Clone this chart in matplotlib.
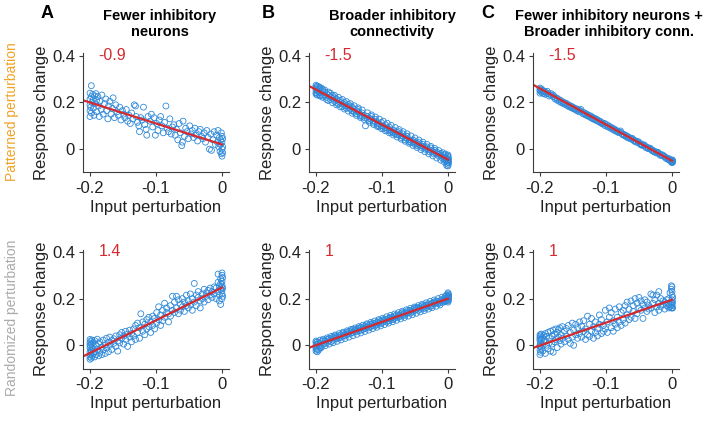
import matplotlib
matplotlib.use("Agg")
import matplotlib.pyplot as plt
import numpy as np

plt.rcParams['font.family'] = ['Liberation Sans', 'DejaVu Sans']

# each panel: list of (input perturbation, [response changes at that input])
pat_fewer = [
    (-0.200, [0.240, 0.215, 0.190, 0.165, 0.140]), (-0.199, [0.180]),
    (-0.198, [0.272, 0.225, 0.155]), (-0.197, [0.200]), (-0.196, [0.235]),
    (-0.195, [0.212, 0.175]), (-0.194, [0.145]), (-0.193, [0.228]),
    (-0.192, [0.195]), (-0.191, [0.238]), (-0.190, [0.160, 0.210]),
    (-0.188, [0.225]), (-0.187, [0.185]), (-0.186, [0.140]), (-0.185, [0.205]),
    (-0.183, [0.170]), (-0.182, [0.232]), (-0.180, [0.150]), (-0.178, [0.195]),
    (-0.176, [0.215]), (-0.175, [0.165]), (-0.173, [0.130]), (-0.172, [0.185]),
    (-0.170, [0.205]), (-0.168, [0.150]), (-0.166, [0.175]), (-0.165, [0.220]),
    (-0.163, [0.135]), (-0.161, [0.190]), (-0.159, [0.160]), (-0.157, [0.145]),
    (-0.155, [0.180]), (-0.153, [0.125]), (-0.151, [0.165]), (-0.149, [0.150]),
    (-0.147, [0.135]), (-0.145, [0.170]), (-0.143, [0.120]), (-0.141, [0.145]),
    (-0.139, [0.110]), (-0.137, [0.155]), (-0.135, [0.130]), (-0.133, [0.190]),
    (-0.131, [0.185]), (-0.130, [0.140]), (-0.128, [0.115]), (-0.126, [0.100]),
    (-0.125, [0.075]), (-0.123, [0.135]), (-0.121, [0.125]), (-0.119, [0.180]),
    (-0.117, [0.105]), (-0.115, [0.085]), (-0.114, [0.060]), (-0.112, [0.140]),
    (-0.109, [0.120]), (-0.107, [0.150]), (-0.105, [0.095]), (-0.103, [0.135]),
    (-0.101, [0.060]), (-0.099, [0.110]), (-0.097, [0.080]), (-0.095, [0.125]),
    (-0.093, [0.140]), (-0.091, [0.100]), (-0.089, [0.070]), (-0.087, [0.115]),
    (-0.085, [0.185]), (-0.083, [0.090]), (-0.081, [0.075]), (-0.079, [0.130]),
    (-0.077, [0.065]), (-0.075, [0.095]), (-0.073, [0.105]), (-0.071, [0.060]),
    (-0.069, [0.085]), (-0.067, [0.040]), (-0.065, [0.110]), (-0.063, [0.070]),
    (-0.061, [0.015]), (-0.060, [0.030]), (-0.059, [0.120]), (-0.057, [0.055]),
    (-0.055, [0.090]), (-0.053, [0.075]), (-0.051, [0.045]), (-0.049, [0.100]),
    (-0.047, [0.065]), (-0.045, [0.080]), (-0.043, [0.050]), (-0.041, [0.090]),
    (-0.039, [0.060]), (-0.037, [0.035]), (-0.035, [0.075]), (-0.033, [0.085]),
    (-0.031, [0.055]), (-0.029, [0.045]), (-0.027, [0.070]), (-0.025, [0.030]),
    (-0.023, [0.080]), (-0.021, [0.050]), (-0.019, [0.000]), (-0.017, [0.065]),
    (-0.016, [-0.005]), (-0.014, [0.040]), (-0.012, [0.075]), (-0.010, [0.020]),
    (-0.008, [0.060]), (-0.007, [0.030]), (-0.006, [0.080]), (-0.005, [0.010]),
    (-0.004, [0.050]), (-0.003, [-0.010]), (-0.002, [0.040, 0.020]),
    (-0.001, [0.070, -0.020]), (0.000, [0.000, 0.030, 0.055, -0.030]),
    (0.001, [0.010, -0.015, 0.045]),
]

pat_broad = [
    (-0.200, [0.268, 0.255, 0.243, 0.262, 0.236, 0.274]), (-0.198, [0.250, 0.270, 0.240, 0.232]),
    (-0.196, [0.258, 0.245, 0.268]), (-0.194, [0.264, 0.232, 0.228]), (-0.192, [0.250, 0.240, 0.262]),
    (-0.190, [0.255, 0.228, 0.222]), (-0.187, [0.245, 0.232, 0.254]), (-0.184, [0.238, 0.222, 0.213]),
    (-0.181, [0.232, 0.245, 0.208]), (-0.178, [0.225, 0.212, 0.240]), (-0.175, [0.230, 0.218, 0.199]),
    (-0.172, [0.220, 0.205, 0.231]), (-0.169, [0.215, 0.200, 0.190]), (-0.166, [0.205, 0.192, 0.222]),
    (-0.163, [0.200, 0.210, 0.181]), (-0.160, [0.195, 0.182, 0.213]), (-0.157, [0.190, 0.200, 0.172]),
    (-0.154, [0.185, 0.175, 0.204]), (-0.151, [0.180, 0.192, 0.163]), (-0.148, [0.172, 0.185, 0.195]),
    (-0.145, [0.180, 0.165, 0.154]), (-0.142, [0.170, 0.158, 0.186]), (-0.139, [0.165, 0.152, 0.145]),
    (-0.136, [0.160, 0.170, 0.177]), (-0.133, [0.150, 0.142, 0.136]), (-0.130, [0.155, 0.140, 0.168]),
    (-0.127, [0.145, 0.135, 0.127]), (-0.125, [0.100]), (-0.122, [0.140, 0.128, 0.156]),
    (-0.119, [0.132, 0.122, 0.115]), (-0.116, [0.128, 0.140, 0.147]), (-0.113, [0.120, 0.112, 0.106]),
    (-0.110, [0.118, 0.128, 0.138]), (-0.107, [0.112, 0.102, 0.097]), (-0.104, [0.108, 0.098, 0.129]),
    (-0.101, [0.100, 0.115, 0.088]), (-0.098, [0.098, 0.088, 0.120]), (-0.095, [0.092, 0.105, 0.079]),
    (-0.092, [0.090, 0.080, 0.111]), (-0.089, [0.085, 0.095, 0.070]), (-0.086, [0.078, 0.070, 0.102]),
    (-0.083, [0.082, 0.072, 0.061]), (-0.080, [0.075, 0.065, 0.093]), (-0.077, [0.072, 0.062, 0.052]),
    (-0.074, [0.062, 0.075, 0.084]), (-0.071, [0.058, 0.050, 0.043]), (-0.068, [0.055, 0.065, 0.075]),
    (-0.065, [0.050, 0.040, 0.034]), (-0.062, [0.045, 0.055, 0.066]), (-0.059, [0.040, 0.032, 0.025]),
    (-0.056, [0.038, 0.028, 0.057]), (-0.053, [0.032, 0.040, 0.016]), (-0.050, [0.028, 0.020, 0.048]),
    (-0.047, [0.025, 0.015, 0.007]), (-0.044, [0.020, 0.028, 0.039]), (-0.041, [0.015, 0.008, -0.002]),
    (-0.038, [0.012, 0.020, 0.030]), (-0.035, [0.008, 0.000, -0.011]), (-0.032, [0.002, 0.010, 0.021]),
    (-0.029, [-0.002, -0.010, -0.020]), (-0.026, [-0.005, 0.005, 0.012]), (-0.023, [-0.010, -0.018, -0.029]),
    (-0.020, [-0.015, -0.005, 0.003]), (-0.017, [-0.020, -0.012, -0.038]), (-0.014, [-0.022, -0.030, -0.006]),
    (-0.011, [-0.028, -0.018, -0.047]), (-0.008, [-0.032, -0.040, -0.015]), (-0.006, [-0.035, -0.025, -0.054]),
    (-0.004, [-0.045, -0.038, -0.021]), (-0.002, [-0.050, -0.040, -0.060, -0.070]),
    (0.000, [-0.045, -0.055, -0.035, -0.065, -0.030, -0.050, -0.072, -0.025]),
    (0.001, [-0.042, -0.058]),
]

pat_both = [
    (-0.200, [0.262, 0.250, 0.240, 0.255]), (-0.198, [0.245, 0.258]),
    (-0.196, [0.252, 0.240]), (-0.194, [0.248, 0.238]), (-0.192, [0.245, 0.235]),
    (-0.189, [0.240, 0.248]), (-0.186, [0.236, 0.228]), (-0.183, [0.230, 0.238]),
    (-0.180, [0.225, 0.232]), (-0.177, [0.222, 0.215]), (-0.174, [0.218, 0.210]),
    (-0.171, [0.212, 0.205]), (-0.168, [0.208, 0.200]), (-0.165, [0.202, 0.196]),
    (-0.162, [0.198, 0.192]), (-0.159, [0.195, 0.187]), (-0.156, [0.188, 0.182]),
    (-0.153, [0.185, 0.178]), (-0.150, [0.180, 0.174]), (-0.147, [0.175, 0.170]),
    (-0.144, [0.172, 0.165]), (-0.141, [0.168, 0.160]), (-0.138, [0.162, 0.170]),
    (-0.135, [0.158, 0.152]), (-0.132, [0.155, 0.148]), (-0.129, [0.150, 0.144]),
    (-0.126, [0.145, 0.140]), (-0.123, [0.142, 0.135]), (-0.120, [0.136, 0.130]),
    (-0.117, [0.132, 0.126]), (-0.114, [0.128, 0.122]), (-0.111, [0.122, 0.118]),
    (-0.108, [0.118, 0.112]), (-0.105, [0.112, 0.108]), (-0.102, [0.110, 0.102]),
    (-0.099, [0.105, 0.098]), (-0.096, [0.100, 0.094]), (-0.093, [0.095, 0.090]),
    (-0.090, [0.090, 0.085]), (-0.087, [0.086, 0.080]), (-0.084, [0.080, 0.076]),
    (-0.081, [0.075, 0.071]), (-0.078, [0.072, 0.078]), (-0.075, [0.066, 0.062]),
    (-0.072, [0.062, 0.058]), (-0.069, [0.058, 0.052]), (-0.066, [0.052, 0.048]),
    (-0.063, [0.048, 0.044]), (-0.060, [0.042, 0.046]), (-0.057, [0.038, 0.034]),
    (-0.054, [0.034, 0.030]), (-0.051, [0.028, 0.032]), (-0.048, [0.024, 0.020]),
    (-0.045, [0.020, 0.016]), (-0.042, [0.014, 0.018]), (-0.039, [0.010, 0.006]),
    (-0.036, [0.006, 0.002]), (-0.033, [0.000, 0.004]), (-0.030, [-0.003, -0.007]),
    (-0.027, [-0.008, -0.012]), (-0.024, [-0.012, -0.016]), (-0.021, [-0.018, -0.014]),
    (-0.018, [-0.022, -0.026]), (-0.015, [-0.028, -0.024]), (-0.012, [-0.032, -0.029]),
    (-0.009, [-0.036, -0.040]), (-0.006, [-0.040, -0.044]), (-0.004, [-0.045, -0.042]),
    (-0.002, [-0.048, -0.052]), (0.000, [-0.050, -0.055, -0.046, -0.058, -0.052]),
    (0.001, [-0.048, -0.056]),
]

rand_fewer = [
    (-0.200, [-0.050, -0.030, -0.010, 0.010, 0.025, -0.060, 0.000]),
    (-0.199, [-0.040, 0.018, -0.020]), (-0.198, [-0.055, 0.005, -0.025]),
    (-0.197, [0.022, -0.045, -0.008]), (-0.195, [-0.035, 0.012, -0.015]),
    (-0.193, [-0.050, 0.020, -0.028]), (-0.191, [0.000, -0.040]),
    (-0.189, [-0.018, 0.026]), (-0.187, [-0.045, 0.008]), (-0.185, [-0.030, 0.015]),
    (-0.182, [-0.008, -0.040]), (-0.180, [0.022, -0.020]), (-0.177, [0.002, -0.035]),
    (-0.175, [0.030, -0.012]), (-0.172, [0.012, -0.028]), (-0.170, [0.035, 0.000]),
    (-0.167, [-0.018, 0.020]), (-0.164, [0.028, 0.008]), (-0.161, [0.040, -0.005]),
    (-0.158, [-0.025, 0.018]), (-0.155, [0.045, 0.010]), (-0.152, [0.030, 0.055]),
    (-0.149, [0.005, 0.040]), (-0.146, [0.060, 0.025]), (-0.143, [-0.005, 0.048]),
    (-0.140, [0.035, 0.065]), (-0.137, [0.015, 0.050]), (-0.134, [0.070, 0.040]),
    (-0.131, [0.025, 0.085]), (-0.128, [0.055, 0.095]), (-0.125, [0.075, 0.030]),
    (-0.123, [0.135]), (-0.120, [0.060, 0.100]), (-0.117, [0.090, 0.045]),
    (-0.114, [0.110, 0.070]), (-0.111, [0.080, 0.120]), (-0.108, [0.100, 0.055]),
    (-0.105, [0.125, 0.085]), (-0.102, [0.070, 0.115]), (-0.099, [0.140, 0.095]),
    (-0.096, [0.110, 0.165]), (-0.093, [0.130, 0.085]), (-0.090, [0.150, 0.105]),
    (-0.087, [0.120, 0.180]), (-0.084, [0.160, 0.140]), (-0.081, [0.100, 0.135]),
    (-0.078, [0.170, 0.125]), (-0.075, [0.150, 0.210]), (-0.072, [0.185, 0.140]),
    (-0.069, [0.160, 0.210]), (-0.066, [0.135, 0.195]), (-0.063, [0.175, 0.150]),
    (-0.060, [0.200, 0.165]), (-0.057, [0.145, 0.185]), (-0.054, [0.215, 0.170]),
    (-0.051, [0.190, 0.160]), (-0.048, [0.175, 0.220]), (-0.045, [0.150, 0.200]),
    (-0.042, [0.265, 0.185]), (-0.039, [0.170, 0.215]), (-0.036, [0.205, 0.230]),
    (-0.033, [0.190, 0.160]), (-0.030, [0.220, 0.200]), (-0.027, [0.185, 0.240]),
    (-0.024, [0.210, 0.225]), (-0.021, [0.195, 0.235]), (-0.018, [0.245, 0.215]),
    (-0.015, [0.205, 0.230]), (-0.012, [0.250, 0.220]), (-0.009, [0.200, 0.245]),
    (-0.006, [0.270, 0.230, 0.305]), (-0.004, [0.215, 0.255, 0.190]),
    (-0.002, [0.285, 0.240, 0.175, 0.265]),
    (0.000, [0.300, 0.310, 0.250, 0.220, 0.275, 0.200, 0.235, 0.260]),
    (0.001, [0.290, 0.245, 0.210]),
]

rand_broad = [
    (-0.200, [0.000, -0.015, 0.012, -0.025, 0.018, -0.008]),
    (-0.198, [0.005, -0.018, 0.015, -0.028]), (-0.196, [-0.005, 0.010, -0.020]),
    (-0.194, [0.008, -0.012, 0.022]), (-0.192, [0.015, -0.002, -0.010]),
    (-0.189, [0.005, 0.020, 0.026]), (-0.186, [0.018, 0.008, -0.002]),
    (-0.183, [0.012, 0.025, 0.032]), (-0.180, [0.020, 0.030, 0.005]),
    (-0.177, [0.028, 0.015, 0.038]), (-0.174, [0.035, 0.022, 0.011]),
    (-0.171, [0.030, 0.040, 0.044]), (-0.168, [0.038, 0.028, 0.017]),
    (-0.165, [0.042, 0.032, 0.050]), (-0.162, [0.045, 0.035, 0.023]),
    (-0.159, [0.040, 0.052, 0.056]), (-0.156, [0.048, 0.040, 0.029]),
    (-0.153, [0.055, 0.045, 0.062]), (-0.150, [0.050, 0.060, 0.035]),
    (-0.147, [0.062, 0.052, 0.068]), (-0.144, [0.055, 0.068, 0.041]),
    (-0.141, [0.065, 0.058, 0.074]), (-0.138, [0.070, 0.060, 0.047]),
    (-0.135, [0.072, 0.062, 0.080]), (-0.132, [0.065, 0.078, 0.053]),
    (-0.129, [0.075, 0.068, 0.086]), (-0.126, [0.082, 0.072, 0.059]),
    (-0.123, [0.078, 0.088, 0.092]), (-0.120, [0.085, 0.075, 0.065]),
    (-0.117, [0.090, 0.080, 0.098]), (-0.114, [0.085, 0.095, 0.071]),
    (-0.111, [0.092, 0.082, 0.104]), (-0.108, [0.098, 0.088, 0.077]),
    (-0.105, [0.095, 0.105, 0.110]), (-0.102, [0.102, 0.092, 0.083]),
    (-0.099, [0.108, 0.098, 0.116]), (-0.096, [0.105, 0.112, 0.089]),
    (-0.093, [0.110, 0.100, 0.122]), (-0.090, [0.115, 0.105, 0.095]),
    (-0.087, [0.112, 0.120, 0.128]), (-0.084, [0.118, 0.110, 0.101]),
    (-0.081, [0.125, 0.115, 0.134]), (-0.078, [0.120, 0.130, 0.107]),
    (-0.075, [0.128, 0.120, 0.140]), (-0.072, [0.135, 0.125, 0.113]),
    (-0.069, [0.130, 0.140, 0.146]), (-0.066, [0.138, 0.128, 0.119]),
    (-0.063, [0.142, 0.135, 0.152]), (-0.060, [0.140, 0.150, 0.125]),
    (-0.057, [0.148, 0.138, 0.158]), (-0.054, [0.152, 0.142, 0.131]),
    (-0.051, [0.148, 0.158, 0.164]), (-0.048, [0.155, 0.162, 0.137]),
    (-0.045, [0.160, 0.150, 0.170]), (-0.042, [0.165, 0.155, 0.143]),
    (-0.039, [0.160, 0.170, 0.176]), (-0.036, [0.168, 0.158, 0.149]),
    (-0.033, [0.172, 0.162, 0.182]), (-0.030, [0.170, 0.178, 0.155]),
    (-0.027, [0.175, 0.165, 0.188]), (-0.024, [0.180, 0.170, 0.161]),
    (-0.021, [0.178, 0.185, 0.194]), (-0.018, [0.182, 0.190, 0.167]),
    (-0.015, [0.188, 0.178, 0.200]), (-0.012, [0.190, 0.182, 0.173]),
    (-0.009, [0.195, 0.185, 0.206]), (-0.006, [0.192, 0.200, 0.185]),
    (-0.004, [0.198, 0.210, 0.188]), (-0.002, [0.205, 0.192, 0.215]),
    (0.000, [0.200, 0.210, 0.190, 0.220, 0.185, 0.225, 0.205]),
    (0.001, [0.195, 0.215, 0.208]),
]

rand_both = [
    (-0.200, [-0.040, -0.020, 0.000, 0.020, 0.035, 0.045, -0.005, 0.028]),
    (-0.199, [0.010, -0.030, 0.040]), (-0.198, [0.025, -0.012, 0.048]),
    (-0.196, [0.005, 0.032, -0.025]), (-0.194, [0.042, 0.015]),
    (-0.192, [-0.035, 0.050, 0.020]), (-0.190, [0.000, 0.038]),
    (-0.188, [0.055, -0.015]), (-0.186, [0.030, 0.010]), (-0.184, [0.060, -0.025]),
    (-0.182, [0.040, 0.005]), (-0.180, [0.065, -0.030]), (-0.178, [0.048, 0.015]),
    (-0.176, [0.070, 0.025]), (-0.174, [-0.010, 0.055]), (-0.172, [0.068, 0.035]),
    (-0.170, [0.020, 0.075]), (-0.168, [0.045, 0.005]), (-0.166, [0.080, 0.030]),
    (-0.163, [0.060, 0.015]), (-0.160, [0.072, 0.040]), (-0.157, [0.025, 0.085]),
    (-0.154, [0.055, 0.008]), (-0.151, [0.095, 0.035]), (-0.149, [0.000, 0.065]),
    (-0.146, [0.045, 0.090]), (-0.143, [0.075, 0.030]), (-0.140, [0.100, 0.050]),
    (-0.137, [0.035, 0.082]), (-0.134, [0.060, 0.105]), (-0.131, [0.025, 0.070]),
    (-0.128, [0.125, 0.045]), (-0.125, [0.090, 0.038]), (-0.122, [0.060, 0.115]),
    (-0.119, [0.030, 0.080]), (-0.116, [0.100, 0.055]), (-0.113, [0.072, 0.040]),
    (-0.110, [0.130, 0.090]), (-0.107, [0.050, 0.110]), (-0.104, [0.085, 0.060]),
    (-0.101, [0.150, 0.070]), (-0.098, [0.100, 0.055]), (-0.095, [0.160, 0.120]),
    (-0.092, [0.075, 0.140]), (-0.089, [0.105, 0.060]), (-0.086, [0.155, 0.090]),
    (-0.083, [0.120, 0.075]), (-0.080, [0.165, 0.100]), (-0.077, [0.085, 0.140]),
    (-0.074, [0.150, 0.110]), (-0.071, [0.095, 0.170]), (-0.068, [0.130, 0.185]),
    (-0.065, [0.110, 0.155]), (-0.062, [0.190, 0.120]), (-0.059, [0.145, 0.170]),
    (-0.056, [0.115, 0.200]), (-0.053, [0.180, 0.135]), (-0.050, [0.205, 0.160]),
    (-0.047, [0.150, 0.190]), (-0.044, [0.175, 0.115]), (-0.041, [0.195, 0.160]),
    (-0.038, [0.145, 0.185]), (-0.035, [0.170, 0.155]), (-0.032, [0.220, 0.160]),
    (-0.029, [0.180, 0.215]), (-0.026, [0.140, 0.195]), (-0.023, [0.165, 0.215]),
    (-0.020, [0.230, 0.150, 0.180]), (-0.017, [0.200, 0.165]), (-0.014, [0.175, 0.190]),
    (-0.011, [0.155, 0.185]), (-0.008, [0.170, 0.195]), (-0.005, [0.160, 0.180, 0.200]),
    (-0.003, [0.175, 0.165, 0.225]), (-0.001, [0.255, 0.240, 0.160, 0.185]),
    (0.000, [0.250, 0.215, 0.170, 0.160, 0.195, 0.230, 0.175]),
    (0.001, [0.160, 0.205, 0.185]),
]

panels = [pat_fewer, pat_broad, pat_both, rand_fewer, rand_broad, rand_both]
fit_slope = [-0.9, -1.5, -1.55, 1.4, 1.0, 0.98]
fit_intercept = [0.02, -0.045, -0.05, 0.247, 0.2, 0.195]
slope_labels = ['-0.9', '-1.5', '-1.5', '1.4', '1', '1']
col_titles = ['Fewer inhibitory\nneurons', 'Broader inhibitory\nconnectivity',
              'Fewer inhibitory neurons +\nBroader inhibitory conn.']
col_letters = ['A', 'B', 'C']
row_labels = ['Patterned perturbation', 'Randomized perturbation']

W, H = 705, 421
fig = plt.figure(figsize=(W / 100, H / 100), dpi=100)

lefts = [83.4, 309.4, 533.4]
ax_w = 145.2
tops = [53.5, 249.6]
ax_h = 119.0

blue = '#2f89d9'
red = '#d42a2f'
axcol = '#3c3c3c'

for i, pts in enumerate(panels):
    r, c = divmod(i, 3)
    xs = [x for x, ys in pts for _ in ys]
    ys_ = [y for _, ys in pts for y in ys]
    ax = fig.add_axes([lefts[c] / W, 1 - (tops[r] + ax_h) / H, ax_w / W, ax_h / H])
    ax.scatter(xs, ys_, s=18, facecolors='none', edgecolors=blue, linewidths=0.6)
    xl = np.array([-0.21, 0.0])
    ax.plot(xl, fit_intercept[i] + fit_slope[i] * xl, color=red, lw=1.6)
    ax.text(-0.187, 0.4, slope_labels[i], color=red, fontsize=11.5, va='center', ha='left')
    ax.set_xlim(-0.21, 0.01)
    ax.set_ylim(-0.1, 0.41)
    ax.set_xticks([-0.2, -0.1, 0])
    ax.set_xticklabels(['-0.2', '-0.1', '0'])
    ax.set_yticks([0, 0.2, 0.4])
    ax.set_yticklabels(['0', '0.2', '0.4'])
    for s in ['top', 'right']:
        ax.spines[s].set_visible(False)
    for s in ['left', 'bottom']:
        ax.spines[s].set_color(axcol)
        ax.spines[s].set_linewidth(0.8)
    ax.tick_params(direction='out', length=3, width=0.8, colors=axcol,
                   labelsize=12, labelcolor='#222222', pad=3)
    ax.set_xlabel('Input perturbation', fontsize=12, color='#222222', labelpad=3)
    ax.set_ylabel('Response change', fontsize=12, color='#222222', labelpad=2)

title_x = [160, 392, 609]
letter_x = [47, 268, 488]
for c in range(3):
    fig.text(title_x[c] / W, 1 - 24 / H, col_titles[c], ha='center', va='center',
             fontsize=10.5, fontweight='bold', linespacing=1.15)
    fig.text(letter_x[c] / W, 1 - 14 / H, col_letters[c], ha='center', va='center',
             fontsize=13, fontweight='bold')

fig.text(12 / W, 1 - 112 / H, row_labels[0], rotation=90, ha='center', va='center',
         fontsize=10, color='#f0a326')
fig.text(12 / W, 1 - 318 / H, row_labels[1], rotation=90, ha='center', va='center',
         fontsize=10, color='#ababab')

fig.savefig('out.png', dpi=100)
